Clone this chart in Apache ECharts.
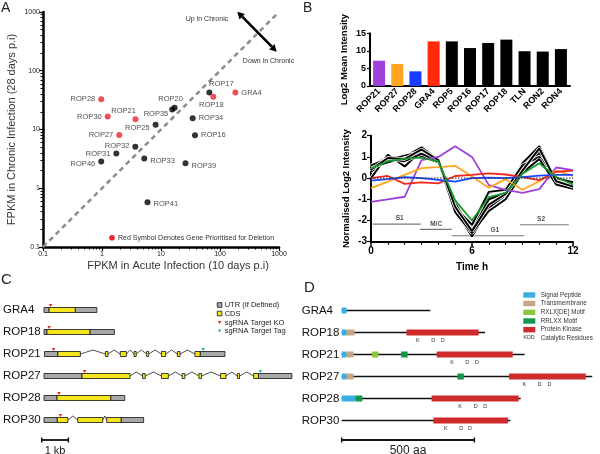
<!DOCTYPE html>
<html>
<head>
<meta charset="utf-8">
<script src="https://cdn.jsdelivr.net/npm/echarts@6/dist/echarts.min.js"></script>
<style>
  html, body { margin: 0; padding: 0; background: #fff; }
  #chart { width: 600px; height: 454px; }
</style>
</head>
<body>
<div id="chart"></div>
<script>
// ---- panel A : FPKM acute vs chronic ----
const rhoptryNames = ['ROP28', 'ROP30', 'ROP21', 'ROP27', 'ROP25', 'ROP35', 'ROP20', 'ROP17', 'ROP18', 'GRA4',
  'ROP34', 'ROP16', 'ROP32', 'ROP31', 'ROP46', 'ROP33', 'ROP39', 'ROP41'];
const acuteFpkm = [0.97, 1.25, 3.7, 1.96, 8.1, 15.5, 17, 66, 77, 182, 34.4, 37.7, 3.67, 1.75, 0.97, 5.2, 26, 5.9];
const chronicFpkm = [32.8, 16.6, 15, 8.1, 12.1, 22, 23.5, 42.5, 36, 42.5, 15.6, 8.0, 5.1, 3.9, 2.84, 3.2, 2.67, 0.58];
const prioritised = ['ROP28', 'ROP30', 'ROP21', 'ROP27', 'ROP18', 'GRA4'];

// ---- panel B : proteomics ----
const barGenes = ['ROP21', 'ROP27', 'ROP28', 'GRA4', 'ROP5', 'ROP16', 'ROP17', 'ROP18', 'TLN', 'RON2', 'RON4'];
const log2MeanIntensity = [7.2, 6.27, 4.18, 12.7, 12.7, 10.8, 12.25, 13.2, 9.9, 9.8, 10.5];
const timeHours = [0, 1, 2, 3, 4, 5, 6, 7, 8, 9, 10, 11, 12];
const rop21Profile = [-1.12, -1.0, -0.88, 0.85, 1.0, 1.5, 1.0, -0.33, -0.55, -0.7, -0.52, 0.5, 0.38];
const rop27Profile = [-0.47, -0.17, 0.15, 0.47, 0.52, 0.58, 0.08, -0.45, -0.05, -0.55, -0.15, 0.35, 0.1];
const rop28Profile = [-0.12, -0.05, 0.05, 0.0, -0.08, -0.17, 0.0, 0.02, 0.0, 0.05, 0.12, 0.15, 0.15];
const gra4Profile = [0.0, 0.1, -0.27, -0.2, -0.25, 0.1, 0.15, 0.22, 0.17, 0.05, -0.1, 0.3, 0.35];
const rop18Profile = [0.45, 0.8, 0.92, 0.97, 0.78, -1.05, -2.0, -0.9, -0.7, 0.2, 0.7, 0.05, -0.3];
const blackProfiles = [
  [0.55, 1.0, 1.0, 1.45, 0.85, -1.5, -2.75, -1.4, -0.8, 0.7, 1.5, -0.1, -0.45],
  [0.3, 0.85, 1.05, 1.25, 0.9, -1.3, -2.3, -0.7, -0.5, 0.5, 1.3, -0.05, -0.25],
  [0.0, 1.1, 0.55, 1.3, 0.8, -1.2, -2.45, -1.0, -0.7, 0.4, 1.2, -0.2, -0.35],
  [0.5, 0.75, 0.95, 1.05, 0.75, -1.4, -2.2, -0.65, -0.55, 0.6, 1.0, 0.0, -0.2],
  [0.6, 0.9, 0.8, 1.15, 0.8, -1.6, -2.6, -1.55, -1.0, 0.25, 0.9, -0.3, -0.5],
  [0.4, 0.95, 0.9, 1.35, 0.85, -1.35, -2.5, -1.25, -0.75, 0.35, 1.4, -0.15, -0.4]
];
// cell cycle phases
const phaseNames = ['S1', 'M/C', 'G1', 'S2'];
const phaseStart = [0.1, 2.9, 4.8, 8.85];
const phaseEnd = [2.95, 4.8, 9.1, 11.75];
const phaseLevel = [-2.17, -2.42, -2.72, -2.2];
const phaseLabelAt = [1.7, 3.87, 7.35, 10.1];

// ---- panel C : gene models (kb) ----
const geneNames = ['GRA4', 'ROP18', 'ROP21', 'ROP27', 'ROP28', 'ROP30'];
const utrSegments = [[0, 0, 0.19], [0, 1.175, 1.99], [1, 0, 0.11], [1, 1.725, 2.65], [2, 0.02, 0.525], [2, 5.875, 6.81],
  [3, 0, 1.43], [3, 8.07, 9.33], [4, 0, 0.49], [4, 2.51, 3.04], [5, 0, 0.5], [5, 2.9, 3.75]];
const cdsSegments = [[0, 0.19, 1.175], [1, 0.11, 1.725],
  [2, 0.525, 1.37], [2, 2.31, 2.41], [2, 2.87, 3.1], [2, 3.39, 3.47], [2, 3.86, 3.94], [2, 4.42, 4.58], [2, 5.02, 5.12], [2, 5.68, 5.875],
  [3, 1.43, 3.24], [3, 3.71, 3.81], [3, 4.42, 4.68], [3, 5.2, 5.3], [3, 5.83, 5.93], [3, 6.64, 6.85], [3, 7.28, 7.36], [3, 7.89, 8.07],
  [4, 0.49, 2.51], [5, 0.5, 0.9], [5, 1.27, 2.21], [5, 2.36, 2.9]];
const koSites = [[0, 0.25], [1, 0.19], [2, 0.36], [3, 1.53], [4, 0.56], [5, 0.62]];
const tagSites = [[2, 5.99], [3, 8.14]];

// ---- panel D : protein domains (aa) ----
const proteinLength = [343, 555, 708, 970, 693, 653];
const signalPeptide = [[0, 0, 19], [1, 0, 19], [2, 0, 19], [3, 0, 19], [4, 0, 54]];
const transmembrane = [[1, 19, 50], [2, 19, 46], [3, 19, 46]];
const rxlxMotif = [[2, 117, 142]];
const rrlxxMotif = [[2, 230, 255], [3, 448, 473], [4, 54, 80]];
const proteinKinase = [[1, 251, 530], [2, 368, 662], [3, 648, 945], [4, 348, 685], [5, 355, 644]];
const catalyticK = [[1, 295], [2, 427], [3, 707], [4, 458], [5, 403]];
const catalyticD = [[1, 354], [1, 391], [2, 486], [2, 524], [3, 766], [3, 804], [4, 519], [4, 556], [5, 463], [5, 497]];

// ---- styles / layout ----
const FONT = 'Liberation Sans, Arial, sans-serif';
const barColors = ['#a040dc', '#ffa51e', '#1a3cff', '#ff2a0a', '#000', '#000', '#000', '#000', '#000', '#000', '#000'];
const labelPlacement = {
  ROP28: ['left', 0, 0], ROP30: ['left', 0, 0], ROP21: ['top', -12, 2], ROP27: ['left', 0, 0],
  ROP25: ['left', 0, 3], ROP35: ['left', 2, 5], ROP20: ['top', -4, 1], ROP17: ['top', 12, 1],
  ROP18: ['bottom', -2, -2], GRA4: ['right', 0, 0], ROP34: ['right', 0, 0], ROP16: ['right', 0, 0],
  ROP32: ['left', 0, -1], ROP31: ['left', 0, 0], ROP46: ['left', 0, 2], ROP33: ['right', 0, 2],
  ROP39: ['right', 0, 3], ROP41: ['right', 0, 2]
};
const gridC = { left: 42.7, top: 299, width: 267, height: 132 };   // 0..10 kb
const gridD = { left: 341.7, top: 299.5, width: 265.3, height: 132 }; // 0..1000 aa

function scatterItems(red) {
  const out = [];
  rhoptryNames.forEach((n, i) => {
    if (prioritised.includes(n) !== red) return;
    const p = labelPlacement[n];
    out.push({ name: n, value: [acuteFpkm[i], chronicFpkm[i]], label: { position: p[0], offset: [p[1], p[2]] } });
  });
  return out;
}
function pairs(values) {
  return timeHours.map((t, i) => [t, values[i]]);
}

function boxRenderer(h, fill, stroke) {
  return function (params, api) {
    const s = api.coord([api.value(1), api.value(0)]);
    const e = api.coord([api.value(2), api.value(0)]);
    return {
      type: 'rect',
      shape: { x: s[0], y: s[1] - h / 2, width: e[0] - s[0], height: h },
      style: { fill: fill, stroke: stroke || null, lineWidth: stroke ? 0.8 : 0 }
    };
  };
}
function customBoxes(data, xi, yi, h, fill, stroke, z) {
  return {
    type: 'custom', xAxisIndex: xi, yAxisIndex: yi, data: data, z: z || 3,
    encode: { x: [1, 2], y: 0 }, renderItem: boxRenderer(h, fill, stroke), silent: true
  };
}

// introns: gaps between consecutive exon pieces of each gene
const intronSegments = [];
geneNames.forEach((g, gi) => {
  const pieces = utrSegments.concat(cdsSegments).filter(d => d[0] === gi).sort((a, b) => a[1] - b[1]);
  for (let k = 1; k < pieces.length; k++) {
    if (pieces[k][1] - pieces[k - 1][2] > 0.05) intronSegments.push([gi, pieces[k - 1][2], pieces[k][1]]);
  }
});

const chart = echarts.init(document.getElementById('chart'), null, { renderer: 'canvas' });

const blackSeries = [];
blackProfiles.forEach(p => {
  blackSeries.push({ type: 'line', xAxisIndex: 2, yAxisIndex: 2, data: pairs(p), symbol: 'none',
    lineStyle: { color: '#fff', width: 3.6 }, z: 2, silent: true });
  blackSeries.push({ type: 'line', xAxisIndex: 2, yAxisIndex: 2, data: pairs(p), symbol: 'none',
    lineStyle: { color: '#000', width: 2 }, z: 2, silent: true });
});
function colourLine(values, color, z) {
  return { type: 'line', xAxisIndex: 2, yAxisIndex: 2, data: pairs(values), symbol: 'none',
    lineStyle: { color: color, width: 1.8 }, z: z, silent: true };
}
const phaseSeries = phaseNames.map((n, i) => ({
  type: 'line', xAxisIndex: 2, yAxisIndex: 2, symbol: 'none', silent: true,
  data: [[phaseStart[i], phaseLevel[i]], [phaseEnd[i], phaseLevel[i]]],
  lineStyle: { color: '#777', width: 1.2 }, z: 1
}));
const phaseLabels = {
  type: 'scatter', xAxisIndex: 2, yAxisIndex: 2, symbolSize: 0, silent: true, z: 1,
  data: phaseNames.map((n, i) => ({ name: n, value: [phaseLabelAt[i], phaseLevel[i]] })),
  label: { show: true, position: 'top', distance: 2, formatter: '{b}', color: '#222', fontSize: 6.5, fontWeight: 'bold' }
};

const option = {
  animation: false,
  textStyle: { fontFamily: FONT },
  grid: [
    { left: 43, top: 12, width: 236, height: 235 },
    { left: 370, top: 33.3, width: 200, height: 52.7 },
    { left: 371, top: 135.7, width: 202, height: 106 },
    gridC,
    gridD
  ],
  xAxis: [
    { type: 'log', gridIndex: 0, min: 0.1, max: 1000, logBase: 10,
      axisLine: { lineStyle: { color: '#000', width: 2.5 } },
      axisTick: { length: 4, lineStyle: { color: '#000', width: 1.2 } },
      minorTick: { show: true, splitNumber: 9, length: 2.5, lineStyle: { color: '#000' } },
      axisLabel: { fontSize: 7, color: '#222', margin: 4, formatter: v => String(v) },
      splitLine: { show: false } },
    { type: 'category', gridIndex: 1, data: barGenes,
      axisLine: { lineStyle: { color: '#000', width: 2 } },
      axisTick: { alignWithLabel: true, length: 3, lineStyle: { color: '#000', width: 1.2 } },
      axisLabel: { rotate: 45, interval: 0, fontSize: 9, fontWeight: 'bold', color: '#000', margin: 4 } },
    { type: 'value', gridIndex: 2, min: 0, max: 12, interval: 6,
      name: 'Time h', nameLocation: 'middle', nameGap: 21,
      nameTextStyle: { fontSize: 10, fontWeight: 'bold', color: '#000' },
      axisLine: { onZero: false, lineStyle: { color: '#000', width: 2 } },
      axisTick: { length: 5, lineStyle: { color: '#000', width: 1.5 } },
      minorTick: { show: true, splitNumber: 6, length: 3, lineStyle: { color: '#000', width: 1.2 } },
      axisLabel: { fontSize: 10, fontWeight: 'bold', color: '#000', margin: 5 },
      splitLine: { show: false } },
    { type: 'value', gridIndex: 3, min: 0, max: 10, show: false },
    { type: 'value', gridIndex: 4, min: 0, max: 1000, show: false }
  ],
  yAxis: [
    { type: 'log', gridIndex: 0, min: 0.1, max: 1000, logBase: 10,
      name: 'FPKM in Chronic Infection (28 days p.i)', nameLocation: 'middle', nameGap: 26,
      nameTextStyle: { fontSize: 11, color: '#333' },
      axisLine: { lineStyle: { color: '#000', width: 2.5 } },
      axisTick: { length: 4, lineStyle: { color: '#000', width: 1.2 } },
      minorTick: { show: true, splitNumber: 9, length: 2.5, lineStyle: { color: '#000' } },
      axisLabel: { fontSize: 7, color: '#222', margin: 3, formatter: v => String(v) },
      splitLine: { show: false } },
    { type: 'value', gridIndex: 1, min: 0, max: 15, interval: 5,
      name: 'Log2 Mean Intensity', nameLocation: 'middle', nameGap: 21,
      nameTextStyle: { fontSize: 9.5, fontWeight: 'bold', color: '#000' },
      axisLine: { show: true, lineStyle: { color: '#000', width: 2 } },
      axisTick: { show: true, length: 3, lineStyle: { color: '#000', width: 1.2 } },
      axisLabel: { fontSize: 9, fontWeight: 'bold', color: '#000', margin: 4 },
      splitLine: { show: false } },
    { type: 'value', gridIndex: 2, min: -3, max: 2, interval: 1,
      name: 'Normalised Log2 Intensity', nameLocation: 'middle', nameGap: 20,
      nameTextStyle: { fontSize: 9.5, fontWeight: 'bold', color: '#000' },
      axisLine: { show: true, lineStyle: { color: '#000', width: 2 } },
      axisTick: { show: true, length: 4, lineStyle: { color: '#000', width: 1.2 } },
      axisLabel: { fontSize: 10, fontWeight: 'bold', color: '#000', margin: 4 },
      splitLine: { show: false } },
    { type: 'category', gridIndex: 3, data: geneNames, inverse: true,
      axisLine: { show: false }, axisTick: { show: false },
      axisLabel: { align: 'left', margin: 41, fontSize: 11.5, color: '#111' } },
    { type: 'category', gridIndex: 4, data: geneNames, inverse: true,
      axisLine: { show: false }, axisTick: { show: false },
      axisLabel: { align: 'left', margin: 40, fontSize: 11.5, color: '#111' } }
  ],
  series: [
    // A
    { type: 'line', xAxisIndex: 0, yAxisIndex: 0, data: [[0.1, 0.1], [1000, 1000]], symbol: 'none', silent: true,
      lineStyle: { color: '#8c8c8c', width: 2.5, type: [5, 4] }, z: 1 },
    { type: 'scatter', xAxisIndex: 0, yAxisIndex: 0, data: scatterItems(false), symbolSize: 6,
      itemStyle: { color: '#000' }, label: { show: true, formatter: '{b}', fontSize: 7.5, color: '#222', distance: 3 } },
    { type: 'scatter', xAxisIndex: 0, yAxisIndex: 0, data: scatterItems(true), symbolSize: 6,
      itemStyle: { color: '#e8262a' }, label: { show: true, formatter: '{b}', fontSize: 7.5, color: '#222', distance: 3 } },
    // B bars
    { type: 'bar', xAxisIndex: 1, yAxisIndex: 1, barWidth: 12,
      data: log2MeanIntensity.map((v, i) => ({ value: v, itemStyle: { color: barColors[i] } })) },
    // B lines
    ...phaseSeries,
    phaseLabels,
    ...blackSeries,
    colourLine(rop21Profile, '#a040dc', 3),
    colourLine(rop27Profile, '#ffa51e', 3),
    colourLine(gra4Profile, '#f0281e', 3),
    colourLine(rop28Profile, '#1a46ff', 3),
    colourLine(rop18Profile, '#169a2a', 4),
    { type: 'line', xAxisIndex: 2, yAxisIndex: 2, data: [[0, 0], [12, 0]], symbol: 'none', silent: true,
      lineStyle: { color: '#222', width: 1, type: [1.5, 1.5] }, z: 5 },
    // C
    { type: 'custom', xAxisIndex: 3, yAxisIndex: 3, data: intronSegments, encode: { x: [1, 2], y: 0 }, silent: true,
      renderItem: (params, api) => {
        const s = api.coord([api.value(1), api.value(0)]);
        const e = api.coord([api.value(2), api.value(0)]);
        return { type: 'polyline', shape: { points: [[s[0], s[1]], [(s[0] + e[0]) / 2, s[1] - 4], [e[0], e[1]]] },
          style: { stroke: '#222', lineWidth: 0.8, fill: null } };
      } },
    customBoxes(utrSegments, 3, 3, 5, '#a8a8a8', '#111'),
    customBoxes(cdsSegments, 3, 3, 5, '#f5e51c', '#111'),
    ...[[koSites, '#e02a2a'], [tagSites, '#1fb59a']].map(([sites, col]) => ({
      type: 'custom', xAxisIndex: 3, yAxisIndex: 3, data: sites, encode: { x: 1, y: 0 }, silent: true, z: 5,
      renderItem: (params, api) => {
        const c = api.coord([api.value(1), api.value(0)]);
        return { type: 'polygon', shape: { points: [[c[0] - 1.8, c[1] - 6], [c[0] + 1.8, c[1] - 6], [c[0], c[1] - 3]] },
          style: { fill: col } };
      } })),
    // D
    { type: 'custom', xAxisIndex: 4, yAxisIndex: 4, silent: true,
      data: proteinLength.map((len, i) => [i, 0, len]), encode: { x: [1, 2], y: 0 },
      renderItem: (params, api) => {
        const s = api.coord([api.value(1), api.value(0)]);
        const e = api.coord([api.value(2), api.value(0)]);
        return { type: 'line', shape: { x1: s[0], y1: s[1], x2: e[0], y2: e[1] }, style: { stroke: '#111', lineWidth: 1.6 } };
      } },
    customBoxes(signalPeptide, 4, 4, 6, '#3aaee4'),
    customBoxes(transmembrane, 4, 4, 6, '#c8a585'),
    customBoxes(rxlxMotif, 4, 4, 6, '#8cc63e'),
    customBoxes(rrlxxMotif, 4, 4, 6, '#12974a'),
    customBoxes(proteinKinase, 4, 4, 6, '#cf2a2c'),
    ...[[catalyticK, 'K'], [catalyticD, 'D']].map(([sites, letter]) => ({
      type: 'custom', xAxisIndex: 4, yAxisIndex: 4, data: sites, encode: { x: 1, y: 0 }, silent: true,
      renderItem: (params, api) => {
        const c = api.coord([api.value(1), api.value(0)]);
        return { type: 'text', x: c[0], y: c[1] + 8, style: { text: letter, fontSize: 5.5, fill: '#333',
          align: 'center', verticalAlign: 'middle', fontFamily: FONT } };
      } }))
  ],
  graphic: []
};

// annotations (panel letters, legends, arrows, scale bars)
const g = option.graphic;
function txt(x, y, text, size, extra) {
  g.push({ type: 'text', x: x, y: y, silent: true,
    style: Object.assign({ text: text, fontSize: size, fill: '#222', fontFamily: FONT, verticalAlign: 'middle' }, extra || {}) });
}
txt(1, 8, 'A', 14); txt(303, 8, 'B', 14); txt(1, 280, 'C', 15); txt(304, 288, 'D', 15);
txt(178, 266, 'FPKM in Acute Infection (10 days p.i)', 11, { align: 'center', fill: '#333' });
txt(207, 19, 'Up in Chronic', 7, { align: 'center', fill: '#333' });
txt(268.5, 61, 'Down in Chronic', 7, { align: 'center', fill: '#333' });
g.push({ type: 'line', silent: true, shape: { x1: 242.2, y1: 16.7, x2: 271.8, y2: 46.7 }, style: { stroke: '#000', lineWidth: 2.6 } });
g.push({ type: 'polygon', silent: true, shape: { points: [[237.3, 11.7], [239.5, 19.4], [244.9, 14.0]] }, style: { fill: '#000' } });
g.push({ type: 'polygon', silent: true, shape: { points: [[276.7, 51.7], [269.1, 49.4], [274.5, 44.0]] }, style: { fill: '#000' } });
g.push({ type: 'circle', silent: true, shape: { cx: 112, cy: 237.7, r: 2.8 }, style: { fill: '#e8262a' } });
txt(118, 237.7, 'Red Symbol Denotes Gene Prioritised for Deletion', 7, { fill: '#333' });

// legend C
[['#a8a8a8', 'UTR (If Defined)', 305], ['#f5e51c', 'CDS', 313.5]].forEach(([c, t, y]) => {
  g.push({ type: 'rect', silent: true, shape: { x: 217.3, y: y - 2.3, width: 4.6, height: 4.6 }, style: { fill: c, stroke: '#111', lineWidth: 0.8 } });
  txt(224.7, y, t, 7.5);
});
[['#e02a2a', 'sgRNA Target KO', 322.5], ['#1fb59a', 'sgRNA Target Tag', 331]].forEach(([c, t, y]) => {
  g.push({ type: 'polygon', silent: true, shape: { points: [[217.8, y - 1.6], [221.4, y - 1.6], [219.6, y + 1.4]] }, style: { fill: c } });
  txt(224.7, y, t, 7.5);
});
// legend D
[['#3aaee4', 'Signal Peptide', 295], ['#c8a585', 'Transmembrane', 303.5], ['#8cc63e', 'RXLX[DE] Motif', 312.3],
 ['#12974a', 'RRLXX Motif', 321], ['#cf2a2c', 'Protein Kinase', 329.7]].forEach(([c, t, y]) => {
  g.push({ type: 'rect', silent: true, shape: { x: 523.3, y: y - 2.7, width: 12, height: 5.4 }, style: { fill: c } });
  txt(540.7, y, t, 6.3, { fill: '#333' });
});
txt(523.5, 337.8, 'KDD', 5.3, { fill: '#333' });
txt(540.7, 337.8, 'Catalytic Residues', 6.3, { fill: '#333' });

// scale bars
const kbPx = gridC.width / 10, aaPx = gridD.width / 1000;
function scaleBar(x0, len, y, label, size) {
  g.push({ type: 'line', silent: true, shape: { x1: x0, y1: y, x2: x0 + len, y2: y }, style: { stroke: '#111', lineWidth: 1.8 } });
  g.push({ type: 'line', silent: true, shape: { x1: x0, y1: y - 2.5, x2: x0, y2: y + 2.5 }, style: { stroke: '#111', lineWidth: 1.5 } });
  g.push({ type: 'line', silent: true, shape: { x1: x0 + len, y1: y - 2.5, x2: x0 + len, y2: y + 2.5 }, style: { stroke: '#111', lineWidth: 1.5 } });
  txt(x0 + len / 2, y + 11, label, size, { align: 'center' });
}
scaleBar(gridC.left - 1, 1 * kbPx, 440, '1 kb', 11);
scaleBar(gridD.left, 500 * aaPx, 440, '500 aa', 12);

chart.setOption(option);
</script>
</body>
</html>
